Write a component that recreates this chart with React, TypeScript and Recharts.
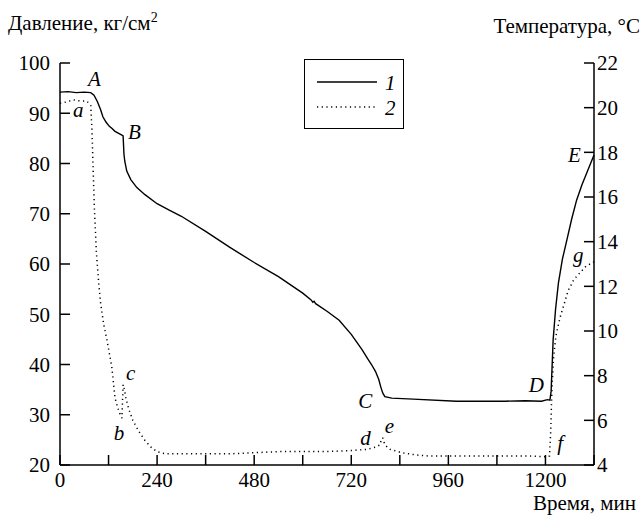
import { LineChart, Line, XAxis, YAxis, ReferenceDot } from "recharts";

// pressure, left axis (kg/cm2)
const pressureTime = [
  0, 20, 40, 60, 76, 84, 92, 100, 106, 114, 122, 128, 136, 145, 152, 156, 158, 160, 165, 175, 190, 210,
  240, 270, 300, 360, 420, 480, 540, 600, 620, 625, 628, 632, 660, 690, 720, 747, 760, 770, 780, 788,
  793, 798, 803, 820, 873, 980, 1100, 1150, 1190, 1205, 1211, 1214, 1219, 1225, 1232, 1242, 1253, 1265,
  1277, 1290, 1302, 1320,
];
const pressureValues = [
  94.2, 94.3, 94.1, 94.2, 94.1, 93.6, 92.4, 90.8, 89.3, 88.2, 87.4, 87, 86.4, 86, 85.7, 85.5, 82, 80.5,
  78.5, 76.8, 75.2, 73.8, 72, 70.7, 69.5, 66.5, 63.3, 60.3, 57.5, 54.2, 52.9, 52.4, 52.6, 52.1, 50.6,
  48.8, 46, 42.9, 41.2, 40, 38.6, 37, 35.5, 34.3, 33.6, 33.3, 33.1, 32.7, 32.7, 32.8, 32.7, 33, 32.9,
  34.7, 44.9, 51, 56.2, 61, 64.8, 69, 72.7, 75.7, 78.1, 81.7,
];

// temperature, right axis (°C)
const tempTime = [
  0, 15, 33, 50, 66, 76, 79, 82, 85, 90, 95, 100, 108, 116, 122, 128, 136, 142, 148, 153, 156, 158, 163,
  170, 180, 195, 210, 225, 240, 260, 300, 360, 420, 480, 540, 600, 660, 720, 760, 780, 791, 795, 798,
  803, 816, 845, 880, 915, 1000, 1080, 1162, 1204, 1210, 1213, 1216, 1220, 1226, 1236, 1256, 1270, 1285,
  1300, 1320,
];
const tempValues = [
  20.2, 20.25, 20.35, 20.3, 20.3, 20.1, 19, 17.2, 15.5, 13.5, 12.3, 11.3, 10.3, 9.6, 9, 8.4, 7, 6.6, 6.3,
  6.1, 7.6, 7.5, 7, 6.5, 6, 5.5, 5.1, 4.8, 4.6, 4.5, 4.5, 4.5, 4.5, 4.55, 4.6, 4.6, 4.6, 4.65, 4.7, 4.8,
  4.9, 5.2, 5.2, 4.9, 4.7, 4.55, 4.45, 4.4, 4.4, 4.4, 4.4, 4.36, 4.4, 5.5, 7.4, 8.8, 9.8, 10.6, 11.8,
  12.3, 12.6, 12.9, 13.1,
];

const timeTicks = [0, 120, 240, 360, 480, 600, 720, 840, 960, 1080, 1200, 1320];
const pressureTicks = [20, 30, 40, 50, 60, 70, 80, 90, 100];
const tempTicks = [4, 6, 8, 10, 12, 14, 16, 18, 20, 22];

// point letters, placed at (time, pressure)
const pointLabels = ["A", "a", "B", "b", "c", "C", "d", "e", "D", "f", "E", "g"];
const labelTimes = [69, 32, 168, 133, 163, 737, 742, 803, 1159, 1229, 1256, 1268];
const labelPressures = [95.4, 89.3, 84.9, 25, 36.9, 31.3, 24, 26.4, 34.5, 23, 80.3, 60.4];

const pressureData = pressureTime.map((t, i) => ({ t, v: pressureValues[i] }));
const tempData = tempTime.map((t, i) => ({ t, v: tempValues[i] }));

const serif = "'Liberation Serif', 'Liberation Sans', sans-serif";
const tickStyle = { fill: "#000", fontSize: 21, fontFamily: serif };
const axisStroke = { stroke: "#000", strokeWidth: 1.5 };

export default function App() {
  return (
    <div
      style={{
        position: "absolute",
        left: 0,
        top: 0,
        width: 641,
        height: 524,
        background: "#fff",
        fontFamily: serif,
        color: "#000",
      }}
    >
      <LineChart
        width={641}
        height={524}
        margin={{ top: 63, right: 0, bottom: 0, left: 0 }}
        style={{ fontFamily: serif }}
      >
        <XAxis
          dataKey="t"
          type="number"
          domain={[0, 1320]}
          ticks={timeTicks}
          tickFormatter={(v: number) => (v % 240 === 0 && v < 1320 ? String(v) : "")}
          height={59}
          tickSize={-10}
          tickMargin={17}
          tick={tickStyle}
          axisLine={axisStroke}
          tickLine={axisStroke}
        />
        <YAxis
          yAxisId="p"
          domain={[20, 100]}
          ticks={pressureTicks}
          width={60}
          tickSize={-10}
          tickMargin={20}
          tick={tickStyle}
          axisLine={axisStroke}
          tickLine={axisStroke}
        />
        <YAxis
          yAxisId="temp"
          orientation="right"
          domain={[4, 22]}
          ticks={tempTicks}
          width={47}
          tickSize={-10}
          tickMargin={13}
          tick={tickStyle}
          axisLine={axisStroke}
          tickLine={axisStroke}
        />
        <Line
          yAxisId="p"
          data={pressureData}
          dataKey="v"
          type="linear"
          stroke="#000"
          strokeWidth={1.4}
          dot={false}
          isAnimationActive={false}
        />
        <Line
          yAxisId="temp"
          data={tempData}
          dataKey="v"
          type="linear"
          stroke="#000"
          strokeWidth={1.5}
          strokeDasharray="1.2 3.5"
          dot={false}
          isAnimationActive={false}
        />
        {pointLabels.map((name, i) => (
          <ReferenceDot
            key={name + i}
            yAxisId="p"
            x={labelTimes[i]}
            y={labelPressures[i]}
            r={0}
            ifOverflow="visible"
            shape={(props: any) => (
              <text
                x={props.cx}
                y={props.cy}
                fontSize={21}
                fontStyle="italic"
                fontFamily={serif}
                fill="#000"
              >
                {name}
              </text>
            )}
          />
        ))}
      </LineChart>

      <div style={{ position: "absolute", left: 8, top: 10, fontSize: 21, whiteSpace: "nowrap" }}>
        Давление, кг/см<sup style={{ fontSize: 14 }}>2</sup>
      </div>
      <div style={{ position: "absolute", right: 1, top: 14, fontSize: 21, whiteSpace: "nowrap" }}>
        Температура, °C
      </div>
      <div style={{ position: "absolute", right: 5, top: 491, fontSize: 21, whiteSpace: "nowrap" }}>
        Время, мин
      </div>

      <div
        style={{
          position: "absolute",
          left: 304,
          top: 59,
          width: 100,
          height: 70,
          border: "1.5px solid #000",
          boxSizing: "border-box",
        }}
      >
        <svg width={100} height={70} style={{ position: "absolute", left: 0, top: 0 }}>
          <line x1={12} y1={22} x2={72} y2={22} stroke="#000" strokeWidth={1.4} />
          <line x1={12} y1={47} x2={72} y2={47} stroke="#000" strokeWidth={1.5} strokeDasharray="1.2 3.5" />
          <text x={80} y={30} fontSize={21} fontStyle="italic" fontFamily={serif}>1</text>
          <text x={80} y={55} fontSize={21} fontStyle="italic" fontFamily={serif}>2</text>
        </svg>
      </div>
    </div>
  );
}
